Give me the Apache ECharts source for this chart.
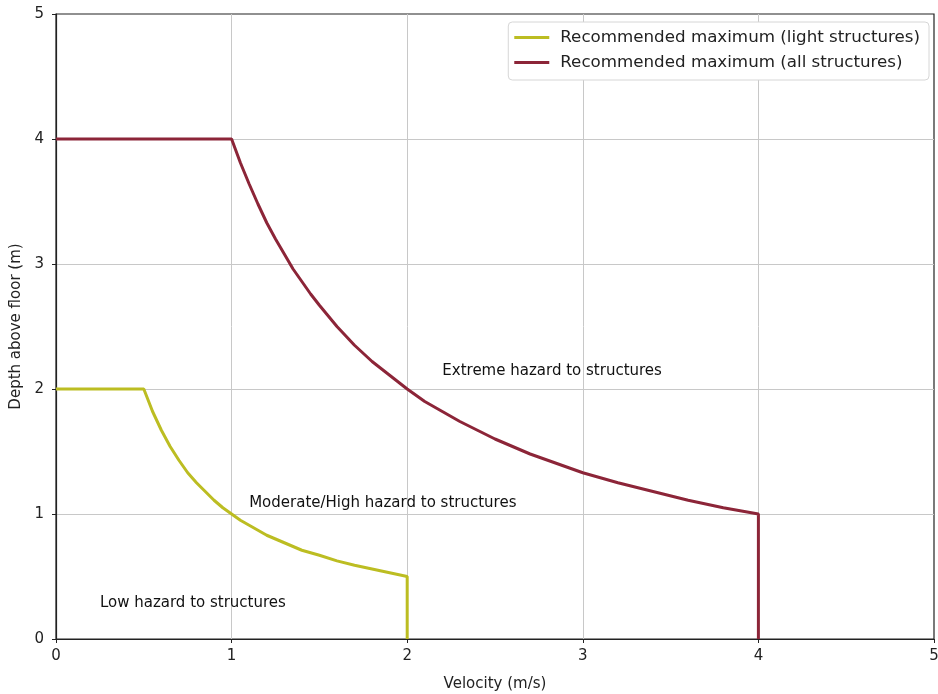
<!DOCTYPE html>
<html>
<head>
<meta charset="utf-8">
<script src="https://cdn.jsdelivr.net/npm/echarts@6/dist/echarts.min.js"></script>
<style>html,body{margin:0;padding:0;background:#fff}#c{width:938px;height:694px}</style>
</head>
<body>
<div id="c"></div>
<script>
var xTicks = [0, 1, 2, 3, 4, 5];
var yTicks = [0, 1, 2, 3, 4, 5];
var seriesNames = ['Recommended maximum (light structures)', 'Recommended maximum (all structures)'];
var lightStructures = [
  [0, 2], [0.5, 2], [0.55, 1.82], [0.6, 1.67], [0.65, 1.54], [0.7, 1.43], [0.75, 1.33],
  [0.8, 1.25], [0.85, 1.18], [0.9, 1.11], [0.95, 1.05], [1, 1], [1.05, 0.95], [1.1, 0.91],
  [1.15, 0.87], [1.2, 0.83], [1.25, 0.8], [1.3, 0.77], [1.4, 0.71], [1.5, 0.67],
  [1.6, 0.625], [1.7, 0.59], [1.8, 0.56], [1.9, 0.53], [2, 0.5], [2, 0]
];
var allStructures = [
  [0, 4], [1, 4], [1.05, 3.81], [1.1, 3.64], [1.15, 3.48], [1.2, 3.33], [1.25, 3.2],
  [1.3, 3.08], [1.35, 2.96], [1.4, 2.86], [1.45, 2.76], [1.5, 2.67], [1.6, 2.5],
  [1.7, 2.35], [1.8, 2.22], [1.9, 2.11], [2, 2], [2.1, 1.9], [2.2, 1.82], [2.3, 1.74],
  [2.4, 1.67], [2.5, 1.6], [2.6, 1.54], [2.7, 1.48], [2.8, 1.43], [2.9, 1.38], [3, 1.33],
  [3.2, 1.25], [3.4, 1.18], [3.6, 1.11], [3.8, 1.05], [4, 1], [4, 0]
];
var annotations = [
  {text: 'Extreme hazard to structures', x: 2.2, y: 2.14},
  {text: 'Moderate/High hazard to structures', x: 1.1, y: 1.09},
  {text: 'Low hazard to structures', x: 0.25, y: 0.29}
];

var chart = echarts.init(document.getElementById('c'), null, {renderer: 'canvas'});
var font = 'DejaVu Sans';
chart.setOption({
  animation: false,
  textStyle: {fontFamily: font},
  grid: {left: 56, right: 4, top: 14, bottom: 55, containLabel: false, outerBoundsMode: 'none',
    show: true, borderColor: '#222', borderWidth: 1.2, backgroundColor: 'transparent'},
  legend: {
    data: seriesNames,
    right: 9, top: 22,
    orient: 'vertical',
    backgroundColor: '#fff',
    borderColor: '#d6d6d6', borderWidth: 1, borderRadius: 4,
    padding: [7, 9, 9, 6],
    itemGap: 8,
    itemWidth: 35, itemHeight: 3,
    icon: 'rect',
    textStyle: {fontFamily: font, fontSize: 16.7, color: '#222', padding: [0, 0, 0, 6]}
  },
  xAxis: {
    type: 'value', min: 0, max: 5, interval: 1,
    name: 'Velocity (m/s)', nameLocation: 'middle', nameGap: 38,
    nameTextStyle: {fontFamily: font, fontSize: 15, color: '#222'},
    axisLine: {show: true, onZero: false, lineStyle: {color: '#222', width: 1.2}},
    axisTick: {show: true, length: 4, lineStyle: {color: '#222'}},
    axisLabel: {fontFamily: font, fontSize: 15, color: '#222', margin: 10,
      formatter: function (v) { return xTicks.indexOf(v) >= 0 ? String(v) : ''; }},
    splitLine: {show: true, showMaxLine: false, showMinLine: false, lineStyle: {color: '#c8c8c8', width: 1}}
  },
  yAxis: {
    type: 'value', min: 0, max: 5, interval: 1,
    name: 'Depth above floor (m)', nameLocation: 'middle', nameGap: 30, nameRotate: 90,
    nameTextStyle: {fontFamily: font, fontSize: 15, color: '#222'},
    axisLine: {show: true, onZero: false, lineStyle: {color: '#222', width: 1.2}},
    axisTick: {show: true, length: 4, lineStyle: {color: '#222'}},
    axisLabel: {fontFamily: font, fontSize: 15, color: '#222', margin: 12,
      formatter: function (v) { return yTicks.indexOf(v) >= 0 ? String(v) : ''; }},
    splitLine: {show: true, showMaxLine: false, showMinLine: false, lineStyle: {color: '#c8c8c8', width: 1}}
  },
  series: [
    {
      name: seriesNames[0], type: 'line', data: lightStructures,
      showSymbol: false, symbol: 'none', smooth: false,
      lineStyle: {color: '#bcbd22', width: 3}, itemStyle: {color: '#bcbd22'}, z: 3
    },
    {
      name: seriesNames[1], type: 'line', data: allStructures,
      showSymbol: false, symbol: 'none', smooth: false,
      lineStyle: {color: '#8c2538', width: 3}, itemStyle: {color: '#8c2538'}, z: 3
    },
    {
      name: 'annotations', type: 'scatter', symbolSize: 0, silent: true,
      itemStyle: {opacity: 1},
      data: annotations.map(function (a) { return {value: [a.x, a.y], name: a.text}; }),
      label: {show: true, position: 'right', distance: 0, formatter: '{b}',
        fontFamily: font, fontSize: 15, color: '#111', opacity: 1},
      emphasis: {disabled: true},
      z: 4
    }
  ]
});
</script>
</body>
</html>
